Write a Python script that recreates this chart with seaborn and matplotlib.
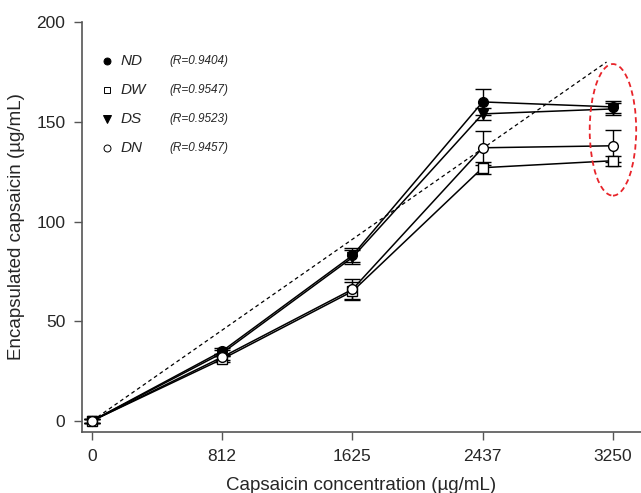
import numpy as np
import pandas as pd
import matplotlib
matplotlib.use("Agg")
import matplotlib.pyplot as plt
from matplotlib.patches import Ellipse
import seaborn as sns

conc = [0, 812, 1625, 2437, 3250]
tick_labels = ["0", "812", "1625", "2437", "3250"]
series_names = ["ND", "DW", "DS", "DN"]
r_values = ["(R=0.9404)", "(R=0.9547)", "(R=0.9523)", "(R=0.9457)"]
nd = [0, 35, 83, 160, 157.5]
dw = [0, 31, 65, 127, 130.5]
ds = [0, 34, 82, 154, 156.5]
dn = [0, 32, 66, 137, 138]
nd_err = [1, 1.5, 3.5, 6.5, 3]
dw_err = [1, 1.5, 4.5, 3, 2.5]
ds_err = [1, 1.5, 3.5, 3, 3]
dn_err = [1, 1.5, 5, 8.5, 8]
ideal_x = [0, 3210]
ideal_y = [0, 180]

sns.set_style("ticks")
plt.rcParams['font.family'] = ['Liberation Sans', 'DejaVu Sans']

fig = plt.figure(figsize=(6.41, 4.93), dpi=100)
ax = fig.add_axes([0.128, 0.124, 0.872, 0.831])

values = {"ND": nd, "DW": dw, "DS": ds, "DN": dn}
errs = {"ND": nd_err, "DW": dw_err, "DS": ds_err, "DN": dn_err}
markers = {"ND": "o", "DW": "s", "DS": "v", "DN": "o"}
faces = {"ND": "black", "DW": "white", "DS": "black", "DN": "white"}
msize = {"ND": 7, "DW": 6.5, "DS": 7, "DN": 7}

ax.plot(ideal_x, ideal_y, ls=(0, (3, 2.5)), color="black", lw=0.9, zorder=1)

for name in series_names:
    df = pd.DataFrame({"x": conc, "y": values[name]})
    ax.errorbar(conc, values[name], yerr=errs[name], fmt="none", ecolor="black",
                elinewidth=1.0, capsize=6, capthick=1.0, zorder=2)
    sns.lineplot(data=df, x="x", y="y", ax=ax, color="black", lw=1.1,
                 marker=markers[name], markersize=msize[name],
                 markerfacecolor=faces[name], markeredgecolor="black",
                 markeredgewidth=1.0, zorder=3)

ell = Ellipse((3250, 146), width=290, height=66, fill=False, edgecolor="#e8242a",
              ls=(0, (3, 2)), lw=1.3, zorder=4)
ax.add_patch(ell)

# legend drawn manually
leg_y = [0.906, 0.834, 0.764, 0.694]
lms = {"ND": 5, "DW": 5, "DS": 6, "DN": 5}
for i, name in enumerate(series_names):
    ax.plot([0.045], [leg_y[i]], transform=ax.transAxes, marker=markers[name],
            markersize=lms[name], markerfacecolor=faces[name],
            markeredgecolor="black", markeredgewidth=0.7, ls="none", clip_on=False)
    ax.text(0.068, leg_y[i], name, transform=ax.transAxes, fontsize=11,
            fontstyle="italic", va="center", ha="left")
    ax.text(0.157, leg_y[i], r_values[i], transform=ax.transAxes, fontsize=8.5,
            fontstyle="italic", va="center", ha="left")

ax.set_xlim(-62, 3425)
ax.set_ylim(-5.5, 200)
ax.set_xticks(conc)
ax.set_xticklabels(tick_labels)
ax.set_yticks([0, 50, 100, 150, 200])
ax.tick_params(axis="both", direction="out", length=6, width=1, color="#555555",
               labelsize=12.5, pad=6)
for s in ["top", "right"]:
    ax.spines[s].set_visible(False)
for s in ["left", "bottom"]:
    ax.spines[s].set_color("#555555")
    ax.spines[s].set_linewidth(1.2)
ax.set_xlabel("Capsaicin concentration (µg/mL)", fontsize=13.5, labelpad=10)
ax.set_ylabel("Encapsulated capsaicin (µg/mL)", fontsize=13.5, labelpad=8)

fig.savefig("out.png", dpi=100)
